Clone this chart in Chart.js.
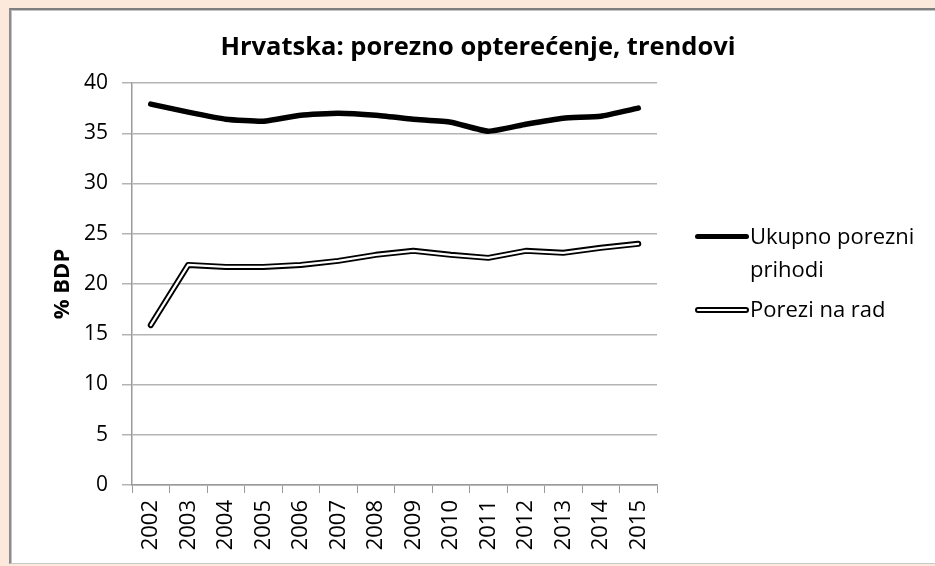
<!DOCTYPE html>
<html>
<head>
<meta charset="utf-8">
<script src="https://cdn.jsdelivr.net/npm/chart.js@4/dist/chart.umd.min.js"></script>
<style>
    html, body { margin: 0; padding: 0; overflow: hidden; background: #fde9dc; }
    #wrap { position: relative; width: 935px; height: 566px; overflow: hidden; background: #fde9dc; }
    #frame { position: absolute; left: 9px; top: 8px; width: 1000px; height: 553px; background: #ffffff;
             border-top: 2px solid #7f7f7f; border-left: 2px solid #8c8c8c; border-bottom: 1px solid #c8c8c8;
             box-shadow: inset 1px 1px 0 #c4c4c4; }
    #chart-utama { position: absolute; left: 0; top: 0; }
    .judul { position: absolute; left: 0; width: 956px; top: 28px; text-align: center;
             font-family: "Open Sans", sans-serif; font-weight: bold; font-size: 25.5px; color: #000; }
    .leg { position: absolute; font-family: "Open Sans", sans-serif; font-size: 22px; color: #000; line-height: 33px; }
    .garis { position: absolute; height: 5px; background: #000; border-radius: 3px; }
    .garis2 { position: absolute; height: 2px; background: #fff; border: 2px solid #000; border-radius: 4px; }
</style>
</head>
<body>
<div id="wrap">
    <div id="frame"></div>
    <canvas id="chart-utama" width="935" height="566"></canvas>
    <div class="judul">Hrvatska: porezno opterećenje, trendovi</div>
    <div class="garis" style="left:695px; top:234px; width:54px;"></div>
    <div class="leg" style="left:750px; top:219px;">Ukupno porezni<br>prihodi</div>
    <div class="garis2" style="left:695px; top:307px; width:50px;"></div>
    <div class="leg" style="left:750px; top:292px;">Porezi na rad</div>
</div>
<script>
const tahun = ["2002", "2003", "2004", "2005", "2006", "2007", "2008",
               "2009", "2010", "2011", "2012", "2013", "2014", "2015"];
const ukupnoPorezniPrihodi = [37.9, 37.1, 36.4, 36.2, 36.8, 37.0, 36.8,
                              36.4, 36.1, 35.2, 35.9, 36.5, 36.7, 37.5];
const poreziNaRad = [15.9, 21.9, 21.7, 21.7, 21.9, 22.3, 22.9,
                     23.3, 22.9, 22.6, 23.3, 23.1, 23.6, 24.0];
const tickY = [0, 5, 10, 15, 20, 25, 30, 35, 40];

const ctx = document.getElementById("chart-utama");
const fontTeks = "'Open Sans', sans-serif";

new Chart(ctx, {
    type: "line",
    data: {
        labels: tahun,
        datasets: [
            {
                // unutarnja bijela linija dvostruke crte
                label: "Porezi na rad (unutra)",
                data: poreziNaRad,
                borderColor: "#ffffff",
                borderWidth: 2.2,
                pointRadius: 0,
                tension: 0,
                order: 0,
                borderJoinStyle: "round",
                borderCapStyle: "round",
            },
            {
                label: "Porezi na rad",
                data: poreziNaRad,
                borderColor: "#000000",
                borderWidth: 6,
                pointRadius: 0,
                tension: 0,
                order: 1,
                borderJoinStyle: "round",
                borderCapStyle: "round",
            },
            {
                label: "Ukupno porezni prihodi",
                data: ukupnoPorezniPrihodi,
                borderColor: "#000000",
                borderWidth: 5.5,
                pointRadius: 0,
                tension: 0.15,
                order: 2,
                borderJoinStyle: "round",
                borderCapStyle: "round",
            },
        ],
    },
    options: {
        responsive: false,
        animation: false,
        layout: {
            padding: { left: 0, right: 278, top: 83, bottom: 0 },
        },
        plugins: {
            legend: { display: false },
            title: { display: false },
            tooltip: { enabled: false },
        },
        scales: {
            x: {
                offset: true,
                afterFit: (scale) => { scale.height = 566 - 485; },
                grid: {
                    offset: true,
                    drawOnChartArea: false,
                    drawTicks: true,
                    tickLength: 8,
                    color: "#9a9a9a",
                },
                border: { color: "#9a9a9a", width: 1.5 },
                ticks: {
                    minRotation: 90,
                    maxRotation: 90,
                    padding: 7,
                    color: "#000",
                    font: { family: fontTeks, size: 22 },
                },
            },
            y: {
                min: 0,
                max: 40,
                afterFit: (scale) => { scale.width = 132; },
                afterBuildTicks: (scale) => {
                    scale.ticks = tickY.map((v) => ({ value: v }));
                },
                grid: {
                    color: "#b4b4b4",
                    lineWidth: 1.5,
                    drawTicks: true,
                    tickLength: 10,
                },
                border: { color: "#9a9a9a", width: 1.5 },
                ticks: {
                    padding: 14,
                    color: "#000",
                    font: { family: fontTeks, size: 21 },
                },
                title: {
                    display: true,
                    text: "% BDP",
                    color: "#000",
                    padding: { top: 50, bottom: 0 },
                    font: { family: fontTeks, size: 22, weight: "bold" },
                },
            },
        },
    },
});
</script>
</body>
</html>
